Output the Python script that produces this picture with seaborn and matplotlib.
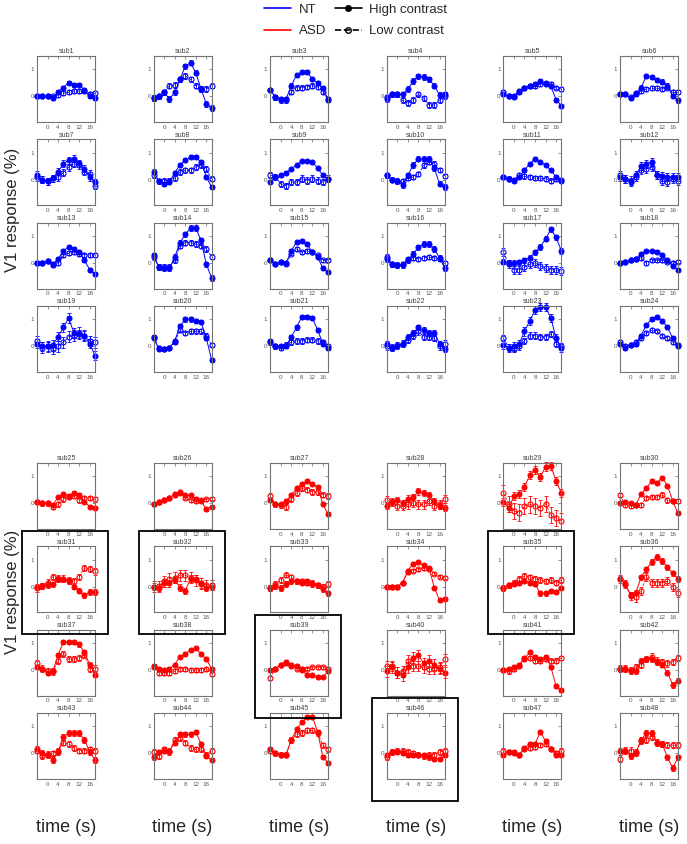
import matplotlib
matplotlib.use("Agg")
import matplotlib.pyplot as plt
import seaborn as sns
from matplotlib.lines import Line2D
from matplotlib.patches import Rectangle

# === data ===
time_s = [-4, -2, 0, 2, 4, 6, 8, 10, 12, 14, 16, 18]
xticks = [0, 4, 8, 12, 16]
highlighted = [31, 32, 35, 39, 46]

# NT subjects (sub1 - sub24), high contrast
nt_high = [
    [0.0, 0.03, 0.0, -0.07, 0.17, 0.33, 0.51, 0.41, 0.43, 0.24, 0.0, -0.07],
    [-0.06, 0.0, 0.15, -0.1, 0.15, 0.63, 1.12, 1.25, 0.88, 0.27, -0.28, -0.43],
    [0.25, -0.04, -0.1, -0.1, 0.4, 0.8, 0.9, 0.9, 0.65, 0.5, 0.3, -0.12],
    [-0.1, 0.08, 0.08, 0.08, 0.27, 0.57, 0.75, 0.72, 0.63, 0.4, 0.05, 0.08],
    [0.08, 0.0, 0.02, 0.2, 0.33, 0.4, 0.45, 0.57, 0.5, 0.38, -0.12, -0.35],
    [0.08, 0.08, -0.07, 0.08, 0.33, 0.75, 0.72, 0.6, 0.55, 0.4, 0.02, -0.15],
    [0.18, 0.0, -0.05, 0.06, 0.3, 0.6, 0.72, 0.78, 0.62, 0.4, 0.1, -0.09],
    [0.3, -0.06, -0.15, -0.09, 0.26, 0.55, 0.72, 0.84, 0.84, 0.65, 0.1, -0.27],
    [-0.09, 0.1, 0.16, 0.26, 0.4, 0.55, 0.69, 0.69, 0.65, 0.43, 0.16, 0.04],
    [0.16, 0.0, -0.06, -0.2, 0.16, 0.55, 0.78, 0.78, 0.78, 0.43, -0.15, -0.27],
    [0.1, 0.04, -0.03, 0.1, 0.35, 0.6, 0.78, 0.65, 0.55, 0.35, 0.1, -0.03],
    [0.1, 0.04, -0.09, 0.16, 0.5, 0.6, 0.65, 0.16, 0.12, 0.1, 0.1, 0.1],
    [0.0, 0.0, 0.07, -0.02, 0.15, 0.45, 0.6, 0.52, 0.4, 0.1, -0.25, -0.4],
    [0.28, -0.15, -0.2, -0.2, 0.22, 0.76, 1.06, 1.3, 1.3, 0.84, -0.05, -0.55],
    [0.1, -0.02, 0.04, 0.0, 0.45, 0.78, 0.82, 0.7, 0.4, 0.22, -0.2, -0.35],
    [0.15, -0.05, -0.08, -0.08, 0.1, 0.34, 0.58, 0.7, 0.7, 0.52, 0.19, -0.18],
    [0.05, 0.0, 0.0, 0.02, 0.1, 0.2, 0.4, 0.6, 0.9, 1.25, 0.95, 0.45],
    [0.0, 0.05, 0.1, 0.15, 0.35, 0.45, 0.45, 0.42, 0.3, 0.1, -0.1, -0.25],
    [0.1, 0.0, 0.0, 0.05, 0.35, 0.7, 1.05, 0.5, 0.45, 0.4, 0.1, -0.35],
    [0.3, -0.1, -0.1, -0.05, 0.2, 0.75, 1.0, 1.0, 0.95, 0.9, 0.3, -0.5],
    [0.2, 0.0, 0.0, 0.0, 0.35, 0.7, 1.1, 1.1, 1.05, 0.6, 0.1, -0.05],
    [0.1, -0.05, 0.0, 0.1, 0.35, 0.5, 0.7, 0.6, 0.5, 0.5, 0.1, -0.1],
    [0.05, -0.05, 0.0, 0.1, 0.55, 0.95, 1.35, 1.45, 1.45, 1.05, 0.3, -0.05],
    [0.1, -0.05, 0.05, 0.1, 0.4, 0.8, 1.0, 1.1, 0.95, 0.7, 0.3, 0.0],
]
# NT subjects, low contrast
nt_low = [
    [0.0, 0.03, 0.0, 0.0, 0.05, 0.12, 0.15, 0.2, 0.2, 0.2, 0.08, 0.12],
    [-0.06, 0.0, 0.15, 0.4, 0.42, 0.63, 0.76, 0.63, 0.4, 0.27, 0.27, 0.4],
    [0.25, -0.04, -0.15, -0.15, 0.17, 0.33, 0.33, 0.36, 0.4, 0.35, 0.17, -0.1],
    [-0.04, 0.08, 0.08, -0.15, -0.25, -0.13, 0.08, -0.07, -0.32, -0.32, -0.15, 0.02],
    [0.15, 0.0, -0.04, 0.15, 0.3, 0.38, 0.4, 0.45, 0.45, 0.45, 0.33, 0.27],
    [0.08, 0.08, -0.04, 0.12, 0.2, 0.27, 0.3, 0.3, 0.27, 0.33, 0.15, 0.15],
    [0.1, 0.0, -0.05, 0.06, 0.1, 0.26, 0.47, 0.6, 0.53, 0.3, 0.22, -0.23],
    [0.16, -0.06, -0.03, -0.03, 0.06, 0.28, 0.35, 0.35, 0.47, 0.55, 0.4, 0.04],
    [0.18, 0.1, -0.15, -0.23, -0.09, -0.09, 0.04, -0.03, 0.04, -0.03, -0.09, 0.04],
    [0.16, 0.0, -0.03, -0.06, 0.06, 0.1, 0.22, 0.53, 0.65, 0.6, 0.35, 0.14],
    [0.1, 0.04, 0.0, 0.16, 0.12, 0.1, 0.06, 0.06, 0.04, -0.03, 0.04, 0.0],
    [0.16, 0.04, -0.03, 0.1, 0.35, 0.4, 0.47, 0.16, -0.03, -0.09, 0.04, -0.03],
    [0.0, 0.0, 0.07, -0.08, 0.0, 0.28, 0.36, 0.4, 0.34, 0.31, 0.3, 0.3],
    [0.22, -0.15, -0.15, -0.15, 0.1, 0.64, 0.76, 0.76, 0.7, 0.64, 0.52, 0.24],
    [0.1, -0.02, 0.04, -0.03, 0.34, 0.52, 0.4, 0.45, 0.4, 0.28, 0.1, 0.1],
    [0.24, -0.05, -0.08, -0.05, 0.15, 0.19, 0.15, 0.19, 0.22, 0.19, 0.15, 0.0],
    [0.4, -0.05, -0.25, -0.25, -0.15, -0.05, 0.0, -0.1, -0.2, -0.25, -0.25, -0.3],
    [0.0, 0.05, 0.1, 0.15, 0.19, 0.0, 0.1, 0.1, 0.1, 0.05, 0.0, 0.05],
    [0.2, -0.05, 0.0, -0.1, 0.0, 0.15, 0.35, 0.4, 0.5, 0.4, 0.2, 0.15],
    [0.35, -0.05, -0.1, -0.05, 0.15, 0.6, 0.5, 0.55, 0.55, 0.55, 0.4, 0.05],
    [0.15, 0.0, -0.05, 0.05, 0.15, 0.2, 0.2, 0.25, 0.25, 0.2, 0.15, 0.0],
    [0.0, -0.05, 0.05, 0.1, 0.25, 0.4, 0.55, 0.35, 0.35, 0.3, 0.0, 0.1],
    [0.3, -0.05, -0.1, 0.0, 0.2, 0.4, 0.4, 0.35, 0.35, 0.45, 0.1, 0.0],
    [0.15, 0.0, 0.05, 0.15, 0.3, 0.5, 0.6, 0.55, 0.4, 0.3, 0.15, 0.05],
]
# ASD subjects (sub25 - sub48), high contrast
asd_high = [
    [0.06, 0.0, 0.0, -0.06, 0.23, 0.35, 0.29, 0.39, 0.33, 0.06, -0.12, -0.16],
    [-0.04, 0.04, 0.11, 0.21, 0.33, 0.39, 0.3, 0.3, 0.18, 0.09, -0.22, -0.12],
    [0.11, -0.04, -0.04, 0.09, 0.3, 0.57, 0.72, 0.82, 0.72, 0.6, -0.04, -0.4],
    [-0.1, 0.06, 0.11, 0.02, 0.18, 0.23, 0.45, 0.39, 0.3, 0.09, -0.1, -0.18],
    [0.06, -0.18, 0.27, 0.35, 0.6, 1.06, 1.24, 0.98, 1.37, 1.39, 0.82, 0.39],
    [0.0, 0.06, 0.0, -0.06, 0.35, 0.57, 0.82, 0.76, 0.96, 0.66, 0.09, -0.37],
    [0.0, 0.02, 0.06, 0.09, 0.3, 0.27, 0.2, 0.0, -0.15, -0.32, -0.2, -0.2],
    [0.0, -0.03, 0.12, 0.12, 0.24, -0.03, -0.15, 0.3, 0.3, 0.09, -0.03, 0.0],
    [-0.05, 0.02, -0.05, 0.1, 0.2, 0.2, 0.15, 0.2, 0.1, 0.05, -0.1, -0.25],
    [0.0, 0.0, 0.0, 0.15, 0.6, 0.85, 0.9, 0.8, 0.7, -0.03, -0.5, -0.45],
    [-0.05, 0.05, 0.1, 0.15, 0.2, 0.15, 0.1, -0.25, -0.25, -0.15, -0.2, -0.05],
    [0.3, 0.1, -0.3, -0.22, 0.35, 0.65, 0.92, 1.1, 0.95, 0.72, 0.5, 0.28],
    [0.1, 0.05, -0.1, -0.05, 0.55, 1.05, 1.05, 1.05, 0.95, 0.65, 0.2, -0.18],
    [0.15, 0.05, 0.0, 0.05, 0.2, 0.5, 0.6, 0.75, 0.8, 0.6, 0.4, 0.05],
    [0.0, 0.05, 0.2, 0.3, 0.2, 0.15, 0.0, -0.2, -0.2, -0.25, -0.25, -0.05],
    [-0.05, 0.1, -0.1, -0.2, 0.1, 0.45, 0.55, 0.25, 0.35, 0.2, 0.05, -0.1],
    [0.0, 0.05, 0.1, 0.2, 0.45, 0.65, 0.5, 0.4, 0.5, 0.12, -0.6, -0.75],
    [0.05, 0.05, -0.05, -0.05, 0.35, 0.4, 0.4, 0.3, 0.2, -0.1, -0.55, -0.4],
    [0.15, 0.0, -0.05, -0.25, 0.05, 0.6, 0.75, 0.75, 0.75, 0.5, 0.05, -0.25],
    [-0.15, 0.05, 0.1, 0.1, 0.4, 0.7, 0.7, 0.7, 0.8, 0.35, -0.1, -0.25],
    [0.15, 0.0, -0.05, -0.05, 0.5, 0.9, 1.15, 1.35, 1.35, 0.8, -0.15, -0.35],
    [-0.05, 0.05, 0.05, 0.0, -0.05, -0.05, -0.05, -0.05, -0.15, -0.2, -0.2, -0.05],
    [-0.05, 0.05, 0.05, -0.05, 0.2, 0.35, 0.35, 0.8, 0.45, 0.15, -0.05, -0.05],
    [0.1, 0.1, -0.1, 0.0, 0.5, 0.75, 0.75, 0.4, 0.35, -0.15, -0.55, -0.15],
]
# ASD subjects, low contrast
asd_low = [
    [0.06, 0.0, 0.0, -0.13, -0.04, 0.15, 0.23, 0.27, 0.11, 0.21, 0.21, 0.15],
    [-0.04, 0.04, 0.11, 0.21, 0.35, 0.43, 0.21, 0.11, 0.09, 0.12, 0.15, 0.18],
    [0.27, -0.04, -0.07, -0.13, 0.15, 0.39, 0.57, 0.51, 0.43, 0.43, 0.33, 0.27],
    [0.11, 0.06, -0.1, -0.1, -0.04, 0.02, -0.04, -0.04, 0.09, -0.1, -0.04, 0.18],
    [0.39, -0.01, -0.28, -0.34, -0.1, -0.04, -0.1, -0.16, -0.01, -0.44, -0.55, -0.67],
    [0.3, -0.07, -0.1, -0.07, -0.06, 0.21, 0.24, 0.23, 0.33, 0.11, 0.09, 0.09],
    [-0.06, 0.02, 0.15, 0.37, 0.3, 0.3, 0.25, 0.2, 0.37, 0.7, 0.65, 0.57],
    [0.0, 0.02, 0.2, 0.3, 0.33, 0.43, 0.43, 0.33, 0.24, 0.12, 0.06, 0.06],
    [-0.05, 0.1, 0.25, 0.45, 0.35, 0.2, 0.2, 0.15, 0.15, 0.05, 0.0, 0.1],
    [0.0, 0.0, 0.0, 0.15, 0.55, 0.6, 0.65, 0.68, 0.65, 0.49, 0.37, 0.33],
    [-0.05, 0.05, 0.15, 0.3, 0.4, 0.35, 0.3, 0.25, 0.2, 0.25, 0.15, 0.25],
    [0.3, 0.1, -0.35, -0.4, -0.15, 0.35, 0.15, 0.15, 0.15, 0.2, 0.0, -0.25],
    [0.25, 0.05, -0.05, -0.05, 0.35, 0.6, 0.4, 0.4, 0.45, 0.55, 0.05, 0.05],
    [0.1, -0.1, -0.1, -0.1, -0.05, 0.05, 0.05, 0.0, 0.0, 0.0, 0.05, -0.15],
    [-0.3, 0.05, 0.2, 0.25, 0.15, 0.05, 0.05, 0.05, 0.1, 0.1, 0.1, 0.05],
    [0.15, 0.15, -0.1, -0.05, 0.35, 0.15, 0.15, 0.1, 0.05, 0.05, 0.1, 0.4],
    [0.0, -0.05, 0.05, 0.15, 0.4, 0.45, 0.35, 0.35, 0.4, 0.35, 0.35, 0.45],
    [0.05, 0.05, 0.0, 0.1, 0.2, 0.4, 0.5, 0.35, 0.3, 0.25, 0.3, 0.45],
    [0.1, -0.1, -0.05, 0.0, 0.1, 0.4, 0.35, 0.2, 0.1, 0.1, 0.15, 0.1],
    [0.05, -0.1, 0.15, 0.05, 0.5, 0.55, 0.4, 0.2, 0.15, 0.15, -0.05, 0.1],
    [0.1, 0.0, -0.05, -0.05, 0.5, 0.7, 0.75, 0.85, 0.85, 0.75, 0.3, 0.15],
    [-0.15, 0.05, 0.1, 0.1, 0.05, 0.0, -0.05, -0.1, -0.05, -0.05, 0.05, 0.1],
    [0.1, 0.05, 0.0, -0.05, 0.15, 0.2, 0.25, 0.3, 0.35, 0.15, 0.0, 0.1],
    [-0.2, 0.1, 0.1, 0.05, 0.45, 0.5, 0.6, 0.4, 0.35, 0.3, 0.3, 0.3],
]
# error bar half-lengths, one value per subject
nt_high_err = [0.06, 0.1, 0.08, 0.1, 0.07, 0.08, 0.13, 0.08, 0.05, 0.1, 0.05, 0.15,
               0.07, 0.1, 0.07, 0.1, 0.1, 0.05, 0.17, 0.08, 0.08, 0.1, 0.15, 0.07]
nt_low_err = [0.07, 0.1, 0.08, 0.1, 0.07, 0.07, 0.13, 0.1, 0.12, 0.08, 0.08, 0.15,
              0.07, 0.1, 0.06, 0.08, 0.15, 0.06, 0.2, 0.08, 0.1, 0.12, 0.12, 0.07]
asd_high_err = [0.06, 0.05, 0.07, 0.12, 0.15, 0.07, 0.1, 0.12, 0.1, 0.05, 0.08, 0.1,
                0.08, 0.07, 0.06, 0.2, 0.07, 0.1, 0.12, 0.08, 0.07, 0.08, 0.07, 0.1]
asd_low_err = [0.08, 0.06, 0.1, 0.15, 0.3, 0.08, 0.12, 0.2, 0.1, 0.06, 0.1, 0.15,
               0.12, 0.07, 0.06, 0.2, 0.08, 0.12, 0.1, 0.1, 0.1, 0.1, 0.08, 0.12]

# === style ===
sns.set_theme(style='white')
plt.rcParams['font.family'] = ['Liberation Sans', 'DejaVu Sans']

W, H = 687, 844
fig = plt.figure(figsize=(W / 100, H / 100), dpi=100)

box_w, box_h = 58, 66
col_left = [37 + 116.6 * i for i in range(6)]
nt_top = [56 + 83.3 * r for r in range(4)]
asd_top = [463 + 83.3 * r for r in range(4)]


def draw_panel(left, top, high, low, e_hi, e_lo, color, name):
    ax = fig.add_axes([left / W, 1 - (top + box_h) / H, box_w / W, box_h / H])
    # low contrast: open markers, dashed
    sns.lineplot(x=time_s, y=low, ax=ax, color=color, marker='o', markersize=3.6,
                 markerfacecolor='none', markeredgecolor=color, markeredgewidth=0.8,
                 linewidth=0.6, linestyle='--', errorbar=None, clip_on=False)
    ax.errorbar(time_s, low, yerr=e_lo, fmt='none', ecolor=color, elinewidth=0.6,
                capsize=1.6, capthick=0.6, clip_on=False)
    # high contrast: filled markers, solid
    sns.lineplot(x=time_s, y=high, ax=ax, color=color, marker='o', markersize=3.6,
                 markerfacecolor=color, markeredgecolor=color, linewidth=0.7,
                 errorbar=None, clip_on=False)
    ax.errorbar(time_s, high, yerr=e_hi, fmt='none', ecolor=color, elinewidth=0.6,
                capsize=1.6, capthick=0.6, clip_on=False)
    ax.set_xlim(-4, 18)
    ax.set_ylim(-0.95, 1.5)
    ax.set_xticks(xticks)
    ax.set_yticks([0, 1])
    ax.set_xlabel('')
    ax.set_ylabel('')
    ax.tick_params(direction='in', length=2, width=0.5, top=True, right=True,
                   labelsize=4.5, labelcolor='0.35', color='0.4', pad=2)
    for sp in ax.spines.values():
        sp.set_color('0.45')
        sp.set_linewidth(0.8)
    ax.set_title(name, fontsize=5, pad=2, color='0.25')
    return ax


for k in range(24):
    r, c = divmod(k, 6)
    draw_panel(col_left[c], nt_top[r], nt_high[k], nt_low[k],
               nt_high_err[k], nt_low_err[k], 'blue', f'sub{k + 1}')
for k in range(24):
    r, c = divmod(k, 6)
    sid = k + 25
    draw_panel(col_left[c], asd_top[r], asd_high[k], asd_low[k],
               asd_high_err[k], asd_low_err[k], 'red', f'sub{sid}')
    if sid in highlighted:
        x0, y0 = col_left[c] - 15, asd_top[r] - 15
        fig.add_artist(Rectangle((x0 / W, 1 - (y0 + box_h + 37) / H),
                                 (box_w + 28) / W, (box_h + 37) / H,
                                 transform=fig.transFigure, fill=False,
                                 edgecolor='black', linewidth=1.3))

# axis labels
fig.text(0.018, 1 - 210 / H, 'V1 response (%)', rotation=90, fontsize=12,
         ha='center', va='center')
fig.text(0.018, 1 - 592 / H, 'V1 response (%)', rotation=90, fontsize=12,
         ha='center', va='center')
for c in range(6):
    fig.text((col_left[c] + box_w / 2) / W, 1 - 828 / H, 'time (s)',
             fontsize=13, ha='center', va='center')

# legend
handles = [
    Line2D([], [], color='blue', linewidth=1.2),
    Line2D([], [], color='red', linewidth=1.2),
    Line2D([], [], color='black', linewidth=1.2, marker='o', markersize=4),
    Line2D([], [], color='black', linewidth=1.2, linestyle='--', marker='o',
           markersize=4, markerfacecolor='none'),
]
fig.legend(handles, ['NT', 'ASD', 'High contrast', 'Low contrast'], ncol=2,
           loc='upper center', bbox_to_anchor=(0.518, 1.01), frameon=False,
           fontsize=9.5, handlelength=2.0, handletextpad=0.6,
           columnspacing=0.7, labelspacing=0.7)

plt.savefig('out.png', dpi=100)
plt.close()
